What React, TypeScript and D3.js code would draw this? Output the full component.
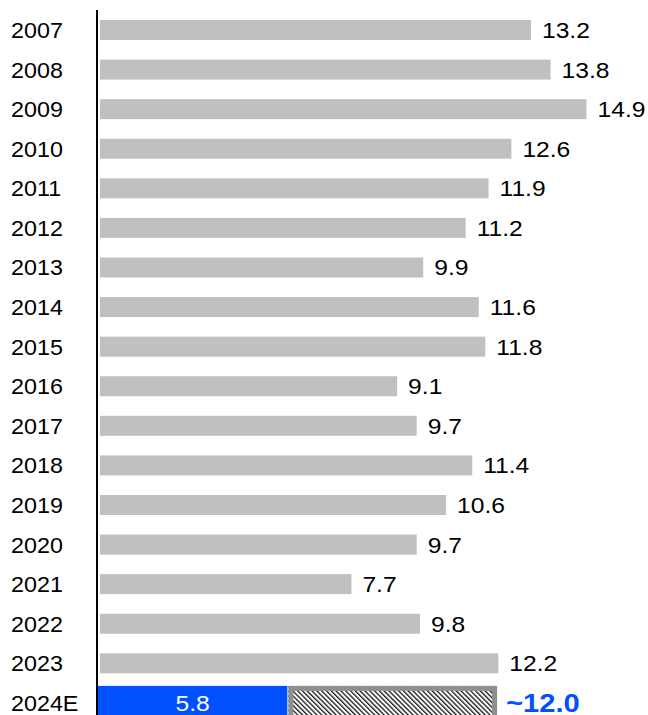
import React from "react";
import * as d3 from "d3";

const years = ["2007","2008","2009","2010","2011","2012","2013","2014","2015","2016","2017","2018","2019","2020","2021","2022","2023"];
const values = [13.2,13.8,14.9,12.6,11.9,11.2,9.9,11.6,11.8,9.1,9.7,11.4,10.6,9.7,7.7,9.8,12.2];
const forecastLabel = "2024E";
const forecastActual = 5.8;
const forecastTotal = 12.1;
const forecastTotalLabel = "~12.0";

const W = 648;
const H = 715;
const FONT = "Arial, 'Liberation Sans', Helvetica, sans-serif";

function T(props: { x: number; y: number; sx: number; size: number; fill: string; bold?: boolean; anchor?: string; children: React.ReactNode }) {
  return (
    <text
      transform={`translate(${props.x},${props.y}) scale(${props.sx},1)`}
      dy="0.36em"
      fontSize={props.size}
      fontWeight={props.bold ? "bold" : "normal"}
      fill={props.fill}
      textAnchor={props.anchor || "start"}
    >
      {props.children}
    </text>
  );
}

export default function App() {
  const cats = [...years, forecastLabel];
  const y = d3.scalePoint<string>().domain(cats).range([30, 702.9]);
  const x = d3.scaleLinear().domain([0, 15]).range([100, 100 + 15 * 32.65]);
  const fy = y(forecastLabel)!;
  const bigH = 34;
  const top = fy - bigH / 2;
  const hx0 = x(forecastActual) - 1;
  const hx1 = x(forecastTotal) + 2;
  return (
    <svg width={W} height={H} style={{ position: "absolute", left: 0, top: 0 }} fontFamily={FONT}>
      <defs>
        <pattern id="hatch" patternUnits="userSpaceOnUse" width={3.4} height={3.4} patternTransform="rotate(-45)">
          <rect width={3.4} height={3.4} fill="#fff" />
          <line x1={0.7} y1={0} x2={0.7} y2={3.4} stroke="#000" strokeWidth={1.2} />
        </pattern>
      </defs>
      <rect x={0} y={0} width={W} height={H} fill="#fff" />
      {years.map((yr, i) => {
        const cy = y(yr)!;
        return (
          <g key={yr}>
            <T x={11} y={cy} sx={1.06} size={22} fill="#000">{yr}</T>
            <rect x={x(0)} y={cy - 10} width={x(values[i]) - x(0)} height={20} fill="#c0c0c0" />
            <T x={x(values[i]) + 11} y={cy} sx={1.12} size={22} fill="#000">{values[i].toFixed(1)}</T>
          </g>
        );
      })}
      <T x={11} y={fy} sx={1.06} size={22} fill="#000">{forecastLabel}</T>
      <rect x={x(0) - 2} y={top} width={x(forecastActual) - x(0)} height={bigH} fill="#0050ff" />
      <T x={(x(0) - 2 + x(forecastActual) - 2) / 2} y={fy} sx={1.12} size={22} fill="#fff" anchor="middle">{forecastActual.toFixed(1)}</T>
      <rect x={hx0} y={top} width={hx1 - hx0} height={bigH} fill="url(#hatch)" />
      <rect x={hx0 + 2.5} y={top + 2.5} width={hx1 - hx0 - 5} height={bigH} fill="none" stroke="#8f8f8f" strokeWidth={5} />
      <T x={x(forecastTotal) + 11} y={fy} sx={1.12} size={26} bold fill="#0050ff">{forecastTotalLabel}</T>
      <line x1={97} x2={97} y1={10} y2={H} stroke="#000" strokeWidth={2} />
    </svg>
  );
}
